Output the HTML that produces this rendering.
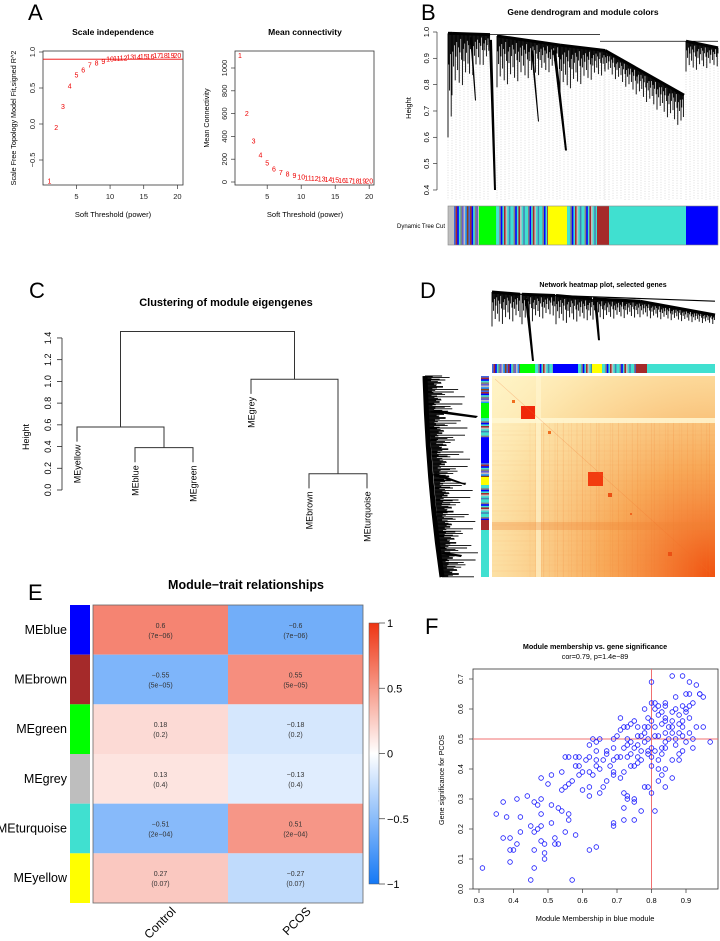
<!DOCTYPE html>
<html><head><meta charset="utf-8"><style>
html,body{margin:0;padding:0;background:#fff;}
svg{display:block;font-family:"Liberation Sans",Arial,sans-serif;}
</style></head><body>
<svg id="fig" width="720" height="941" viewBox="0 0 720 941">
<defs>
<linearGradient id="cbar" x1="0" y1="0" x2="0" y2="1">
<stop offset="0" stop-color="rgb(238,52,18)"/><stop offset="0.5" stop-color="#fff"/><stop offset="1" stop-color="rgb(20,120,245)"/>
</linearGradient>
<radialGradient id="heatR" cx="715" cy="577" r="320" gradientUnits="userSpaceOnUse">
<stop offset="0" stop-color="rgb(240,80,15)" stop-opacity="1"/>
<stop offset="0.35" stop-color="rgb(246,150,60)" stop-opacity="0.8"/>
<stop offset="0.7" stop-color="rgb(250,205,130)" stop-opacity="0.5"/>
<stop offset="1" stop-color="rgb(255,240,190)" stop-opacity="0"/>
</radialGradient>
</defs>
<g id="panels"></g>
</svg>
<script>
// ---------- DATA ----------
const powers=[1,2,3,4,5,6,7,8,9,10,11,12,13,14,15,16,17,18,19,20];
const scaleFitR2=[-0.79,-0.05,0.24,0.53,0.68,0.75,0.82,0.85,0.87,0.9,0.91,0.92,0.93,0.93,0.94,0.94,0.95,0.95,0.95,0.95];
const meanConn=[1110,600,360,235,165,115,85,70,55,45,35,30,25,20,17,15,12,10,8,7];
const meNames=["MEyellow","MEblue","MEgreen","MEgrey","MEbrown","MEturquoise"];
const meMergeBG=0.39, meMergeYBG=0.58, meMergeBT=0.15, meMergeGBT=1.02, meMergeTop=1.46;
const traitRows=["MEblue","MEbrown","MEgreen","MEgrey","MEturquoise","MEyellow"];
const rowColors=["#0000FF","#A52A2A","#00FF00","#BEBEBE","#40E0D0","#FFFF00"];
const traitCols=["Control","PCOS"];
const corControl=[0.6,-0.55,0.18,0.13,-0.51,0.27];
const corPCOS=[-0.6,0.55,-0.18,-0.13,0.51,-0.27];
const pvals=["(7e-06)","(5e-05)","(0.2)","(0.4)","(2e-04)","(0.07)"];
const mmX=[0.86,0.89,0.91,0.93,0.80,0.90,0.94,0.95,0.84,0.81,0.80,0.78,0.71,0.75,0.73,0.78,0.65,0.63,0.69,0.97,0.92,0.92,0.62,0.64,0.55,0.58,0.59,0.61,0.59,0.54,0.51,0.48,0.57,0.59,0.50,0.55,0.54,0.44,0.48,0.41,0.37,0.46,0.47,0.51,0.53,0.48,0.54,0.56,0.35,0.38,0.42,0.51,0.48,0.45,0.56,0.46,0.47,0.42,0.55,0.58,0.52,0.48,0.37,0.39,0.41,0.53,0.49,0.52,0.40,0.39,0.46,0.49,0.62,0.64,0.49,0.39,0.46,0.31,0.45,0.57,
0.62,0.64,0.66,0.69,0.70,0.71,0.73,0.74,0.76,0.77,0.79,0.80,0.82,0.83,0.84,0.86,0.88,0.72,0.73,0.75,0.76,0.78,0.79,0.81,0.82,0.84,0.85,0.86,0.88,0.89,0.91,0.73,0.74,0.76,0.70,0.71,0.72,0.74,0.76,0.79,0.80,0.82,0.83,0.84,0.86,0.87,0.88,0.90,0.91,0.81,0.82,0.84,0.87,0.89,0.92,0.93,0.91,0.89,0.87,0.85,0.84,0.83,0.81,0.89,0.87,0.90,0.68,0.69,0.71,0.72,0.74,0.75,0.76,0.65,0.63,0.67,0.66,0.69,0.65,0.62,0.62,0.60,0.72,0.73,0.75,0.75,0.73,0.77,0.72,0.69,0.69,0.72,0.75,0.81,0.80,0.78,0.79,0.82,0.83,0.82,0.80,0.84,0.86,0.84,0.88,0.58,0.56,0.62,0.60,0.64,0.56,0.64,0.67,0.69,0.67,0.86,0.84,0.83,0.81,0.79,0.78,0.77,0.80,0.79,0.77,0.88,0.86,0.89,0.91,0.94,0.95,0.90];
const gsY=[0.71,0.71,0.69,0.68,0.69,0.65,0.65,0.64,0.62,0.62,0.62,0.60,0.57,0.56,0.54,0.54,0.50,0.50,0.50,0.49,0.50,0.47,0.48,0.46,0.44,0.44,0.44,0.43,0.41,0.39,0.38,0.37,0.36,0.38,0.35,0.34,0.33,0.31,0.30,0.30,0.29,0.29,0.28,0.28,0.27,0.25,0.26,0.25,0.25,0.24,0.24,0.22,0.21,0.21,0.23,0.19,0.20,0.19,0.19,0.18,0.17,0.16,0.17,0.17,0.15,0.15,0.15,0.15,0.13,0.13,0.13,0.12,0.13,0.14,0.10,0.09,0.07,0.07,0.03,0.03,
0.44,0.43,0.43,0.43,0.44,0.44,0.44,0.45,0.44,0.43,0.45,0.44,0.43,0.45,0.47,0.43,0.43,0.47,0.48,0.47,0.48,0.49,0.50,0.51,0.51,0.52,0.54,0.54,0.55,0.56,0.57,0.50,0.49,0.51,0.51,0.53,0.54,0.55,0.54,0.57,0.56,0.58,0.59,0.57,0.59,0.60,0.58,0.59,0.61,0.60,0.61,0.61,0.64,0.61,0.62,0.54,0.52,0.51,0.50,0.50,0.49,0.47,0.46,0.46,0.48,0.49,0.41,0.39,0.37,0.39,0.41,0.41,0.42,0.40,0.38,0.36,0.34,0.38,0.32,0.31,0.34,0.33,0.32,0.31,0.30,0.29,0.30,0.26,0.27,0.22,0.21,0.23,0.23,0.26,0.32,0.34,0.34,0.36,0.38,0.40,0.41,0.40,0.37,0.34,0.45,0.41,0.35,0.39,0.39,0.41,0.44,0.49,0.45,0.47,0.46,0.56,0.56,0.55,0.54,0.54,0.52,0.51,0.47,0.46,0.46,0.52,0.52,0.54,0.65,0.65,0.54,0.60];
const barB=[[448,454,"#BEBEBE"],[454,479,"mix"],[479,496,"#00FF00"],[496,548,"mixT"],[548,567,"#FFFF00"],[567,597,"mixT"],[597,609,"#A52A2A"],[609,686,"#40E0D0"],[686,718,"#0000FF"]];
const barDtop=[[492,520,"mix"],[520,535,"#00FF00"],[535,553,"mixT"],[553,578,"#0000FF"],[578,592,"mixT"],[592,602,"#FFFF00"],[602,636,"mixT"],[636,647,"#A52A2A"],[647,715,"#40E0D0"]];
const barDleft=[[376,403,"mix"],[403,418,"#00FF00"],[418,438,"mixT"],[438,463,"#0000FF"],[463,477,"mix"],[477,485,"#FFFF00"],[485,520,"mixT"],[520,530,"#A52A2A"],[530,577,"#40E0D0"]];

// ---------- HELPERS ----------
const NS="http://www.w3.org/2000/svg";
const root=document.getElementById('panels');
function mk(tag,attrs,parent){const e=document.createElementNS(NS,tag);for(const k in attrs)e.setAttribute(k,attrs[k]);(parent||root).appendChild(e);return e;}
function txt(s,attrs,parent){const e=mk('text',attrs,parent);e.textContent=s;return e;}
function grp(name){const g=mk('g',{});

return g;}
function label(s,x,y,size,name,extra){const t=txt(s,Object.assign({x:x,y:y,'font-size':size},extra||{}));

return t;}
const mixCols=["#4169E1","#A52A2A","#0000FF","#40E0D0","#808080","#6A5ACD","#BEBEBE","#1E90FF","#8B4513"];
const mixTCols=["#40E0D0","#40E0D0","#808080","#0000FF","#40E0D0","#A52A2A","#BEBEBE","#40E0D0","#4682B4"];
function colorBar(g,segs,horizontal,a0,a1){
  segs.forEach(s=>{
    if(s[2]==="mix"||s[2]==="mixT"){const cols=s[2]==="mix"?mixCols:mixTCols;let k=0;
      for(let p=s[0];p<s[1];p+=1.6){const w=Math.min(1.6,s[1]-p);const c=cols[k%cols.length];k++;
        const r=horizontal?mk('rect',{x:p,y:a0,width:w+0.2,height:a1-a0,fill:c},g):mk('rect',{x:a0,y:p,width:a1-a0,height:w+0.2,fill:c},g);
        
        }
    } else {
      const r=horizontal?mk('rect',{x:s[0],y:a0,width:s[1]-s[0],height:a1-a0,fill:s[2]},g):mk('rect',{x:a0,y:s[0],width:a1-a0,height:s[1]-s[0],fill:s[2]},g);
      
      
    }
  });
}
const pat=[1,0.3,0.55,0.2,0.8,0.4,0.15,0.65,0.25,0.9,0.35,0.1,0.5];

// ---------- PANEL LETTERS ----------
[["A",28,20],["B",421,20],["C",29,298],["D",420,298],["E",28,600],["F",425,634]].forEach(l=>{
  label(l[0],l[1],l[2],22,'panel-letter-'+l[0].toLowerCase());
});

// ---------- PANEL A ----------
(function(){
  const g=grp('panel-a-scale-independence');
  const xs=v=>49.5+(v-1)*6.73, ys=v=>124-v*72;
  const f=mk('rect',{x:43,y:51,width:140,height:134,fill:'none',stroke:'#333','stroke-width':0.8},g);
  
  
  [5,10,15,20].forEach(v=>{mk('line',{x1:xs(v),x2:xs(v),y1:185,y2:189,stroke:'#333','stroke-width':0.7},g);label(v,xs(v),199,7.5,'x-tick-label',{'text-anchor':'middle',fill:'#222'});});
  [-0.5,0,0.5,1].forEach(v=>{mk('line',{x1:39,x2:43,y1:ys(v),y2:ys(v),stroke:'#333','stroke-width':0.7},g);const s=v===0?"0.0":v===1?"1.0":String(v).replace('-','−');label(s,35,ys(v),7.5,'y-tick-label',{'text-anchor':'middle',transform:`rotate(-90 35 ${ys(v)})`,fill:'#222'});});
  const rl=mk('line',{x1:43,x2:183,y1:ys(0.9),y2:ys(0.9),stroke:'#e00','stroke-width':0.8},g);
  
  
  powers.forEach((p,i)=>{label(p,xs(p),ys(scaleFitR2[i])+2.5,7,'power-point',{'text-anchor':'middle',fill:'#e00'});});
  label('Scale independence',113,35,8.5,'chart-title',{'text-anchor':'middle','font-weight':'bold'});
  label('Soft Threshold (power)',113,217,7.5,'x-axis-title',{'text-anchor':'middle'});
  label('Scale Free Topology Model Fit,signed R^2',16,118,7.2,'y-axis-title',{'text-anchor':'middle',transform:'rotate(-90 16 118)'});

  const g2=grp('panel-a-mean-connectivity');
  const xs2=v=>240+(v-1)*6.8, ys2=v=>182-v*0.114;
  const f2=mk('rect',{x:235,y:51,width:139,height:134,fill:'none',stroke:'#333','stroke-width':0.8},g2);
  
  
  [5,10,15,20].forEach(v=>{mk('line',{x1:xs2(v),x2:xs2(v),y1:185,y2:189,stroke:'#333','stroke-width':0.7},g2);label(v,xs2(v),199,7.5,'x-tick-label',{'text-anchor':'middle',fill:'#222'});});
  [0,200,400,600,800,1000].forEach(v=>{mk('line',{x1:231,x2:235,y1:ys2(v),y2:ys2(v),stroke:'#333','stroke-width':0.7},g2);label(v,227,ys2(v),7.5,'y-tick-label',{'text-anchor':'middle',transform:`rotate(-90 227 ${ys2(v)})`,fill:'#222'});});
  powers.forEach((p,i)=>{label(p,xs2(p),ys2(meanConn[i])+2.5,7,'connectivity-point',{'text-anchor':'middle',fill:'#e00'});});
  label('Mean connectivity',305,35,8.5,'chart-title',{'text-anchor':'middle','font-weight':'bold'});
  label('Soft Threshold (power)',305,217,7.5,'x-axis-title',{'text-anchor':'middle'});
  label('Mean Connectivity',209,118,7.2,'y-axis-title',{'text-anchor':'middle',transform:'rotate(-90 209 118)'});
})();

// ---------- DENDROGRAM DRAWER ----------
function dendro(g,clusters,ymap,dotted){
  clusters.forEach(c=>{
    const [x0,x1,t0,t1,b0,b1]=c;let i=0;
    for(let x=x0;x<=x1;x+=0.8){const f=(x-x0)/Math.max(1,(x1-x0));const top=t0+(t1-t0)*f;const bot=b0+(b1-b0)*f;
      const len=(top-bot)*pat[i%pat.length];
      if(dotted && i%5===0) mk('line',{x1:x,x2:x,y1:ymap(top-len),y2:dotted,stroke:'#aaa','stroke-width':0.4,'stroke-dasharray':'1,1.5'},g);
      i++;
      mk('line',{x1:x,x2:x,y1:ymap(top),y2:ymap(top-len),stroke:'#000','stroke-width':0.9},g);}
    mk('line',{x1:x0,x2:x1,y1:ymap(t0),y2:ymap(t1),stroke:'#000','stroke-width':3},g);
  });
}

// ---------- PANEL B ----------
(function(){
  const g=grp('panel-b-gene-dendrogram');
  const yB=h=>32+(1-h)*263.3;
  mk('line',{x1:437,x2:437,y1:yB(1),y2:yB(0.4),stroke:'#333','stroke-width':0.7},g);
  [0.4,0.5,0.6,0.7,0.8,0.9,1.0].forEach(v=>{mk('line',{x1:433,x2:437,y1:yB(v),y2:yB(v),stroke:'#333','stroke-width':0.7},g);label(v.toFixed(1),429,yB(v),7.5,'y-tick-label',{'text-anchor':'middle',transform:`rotate(-90 429 ${yB(v)})`});});
  label('Height',411,108,7.5,'y-axis-title',{'text-anchor':'middle',transform:'rotate(-90 411 108)'});
  label('Gene dendrogram and module colors',583,15,8.5,'chart-title',{'text-anchor':'middle','font-weight':'bold'});
  const dg=grp('gene-dendrogram');
  dendro(dg,[[448,452,0.995,0.995,0.6,0.6],[452,490,0.995,0.99,0.76,0.9],[497,560,0.985,0.95,0.79,0.86],[560,605,0.95,0.93,0.77,0.84],[605,684,0.93,0.76,0.85,0.63],[686,718,0.965,0.94,0.85,0.87]],yB,200);
  mk('line',{x1:450,x2:600,y1:yB(0.99),y2:yB(0.99),stroke:'#000','stroke-width':0.8},dg);
  mk('line',{x1:600,x2:718,y1:yB(0.965),y2:yB(0.965),stroke:'#000','stroke-width':0.8},dg);
  mk('polygon',{points:`489,${yB(0.97)} 492,${yB(0.97)} 496,${yB(0.4)} 494,${yB(0.4)}`,fill:'#000'},dg);
  mk('polygon',{points:`553,${yB(0.93)} 556,${yB(0.93)} 567,${yB(0.55)} 565,${yB(0.55)}`,fill:'#000'},dg);
  mk('polygon',{points:`531,${yB(0.93)} 533,${yB(0.93)} 539,${yB(0.66)} 538,${yB(0.66)}`,fill:'#000'},dg);
  mk('polygon',{points:`470,${yB(0.98)} 472,${yB(0.98)} 476,${yB(0.74)} 475,${yB(0.74)}`,fill:'#000'},dg);
  const cb=grp('dynamic-tree-cut-colors');
  colorBar(cb,barB,true,206,245);
  mk('rect',{x:448,y:206,width:270,height:39,fill:'none',stroke:'#888','stroke-width':0.6},cb);
  label('Dynamic Tree Cut',445,228,6,'color-bar-label',{'text-anchor':'end'});
})();

// ---------- PANEL C ----------
(function(){
  const g=grp('panel-c-eigengene-clustering');
  const yC=h=>490-h*108.6;
  const lx=i=>77+i*58;
  mk('line',{x1:62,x2:62,y1:yC(0),y2:yC(1.4),stroke:'#222','stroke-width':0.8},g);
  [0,0.2,0.4,0.6,0.8,1.0,1.2,1.4].forEach(v=>{mk('line',{x1:57,x2:62,y1:yC(v),y2:yC(v),stroke:'#222','stroke-width':0.8},g);label(v.toFixed(1),51,yC(v),9,'y-tick-label',{'text-anchor':'middle',transform:`rotate(-90 51 ${yC(v)})`});});
  label('Height',29,437,9,'y-axis-title',{'text-anchor':'middle',transform:'rotate(-90 29 437)'});
  label('Clustering of module eigengenes',226,306,11,'chart-title',{'text-anchor':'middle','font-weight':'bold'});
  const hang=0.135, s={stroke:'#333','stroke-width':1,fill:'none'};
  function U(xa,ha,xb,hb,h){const p=mk('path',Object.assign({d:`M${xa},${yC(ha)} V${yC(h)} H${xb} V${yC(hb)}`},s),g);
}
  const nBG=(lx(1)+lx(2))/2, nYBG=(lx(0)+nBG)/2, nBT=(lx(4)+lx(5))/2, nGBT=(lx(3)+nBT)/2;
  U(lx(1),meMergeBG-hang,lx(2),meMergeBG-hang,meMergeBG);
  U(lx(0),meMergeYBG-hang,nBG,meMergeBG,meMergeYBG);
  U(lx(4),meMergeBT-hang,lx(5),meMergeBT-hang,meMergeBT);
  U(lx(3),meMergeGBT-hang,nBT,meMergeBT,meMergeGBT);
  U(nYBG,meMergeYBG,nGBT,meMergeGBT,meMergeTop);
  const tips=[meMergeYBG,meMergeBG,meMergeBG,meMergeGBT,meMergeBT,meMergeBT];
  meNames.forEach((n,i)=>{const y=yC(tips[i]-hang)+3;label(n,lx(i)+3.5,y,9,'leaf-label',{'text-anchor':'end',transform:`rotate(-90 ${lx(i)+3.5} ${y})`});});
})();

// ---------- PANEL D ----------
(function(){
  const g=grp('panel-d-network-heatmap');
  label('Network heatmap plot, selected genes',603,287,7,'chart-title',{'text-anchor':'middle','font-weight':'bold'});
  const td=grp('top-dendrogram');
  const yT=h=>292+(1-h)*230;
  dendro(td,[[492,520,1.0,0.99,0.85,0.88],[522,555,0.99,0.985,0.86,0.9],[556,592,0.985,0.97,0.86,0.88],[593,640,0.97,0.96,0.88,0.89],[640,715,0.96,0.9,0.89,0.86]],yT,null);
  mk('line',{x1:492,x2:715,y1:yT(0.995),y2:yT(0.96),stroke:'#000','stroke-width':1.2},td);
  mk('polygon',{points:`525,${yT(0.97)} 528,${yT(0.97)} 534,${yT(0.7)} 532,${yT(0.7)}`,fill:'#000'},td);
  mk('polygon',{points:`594,${yT(0.96)} 597,${yT(0.96)} 600,${yT(0.79)} 598,${yT(0.79)}`,fill:'#000'},td);
  const cbt=grp('top-module-colors');colorBar(cbt,barDtop,true,364,373);
  const cbl=grp('left-module-colors');colorBar(cbl,barDleft,false,481,489);
  const ld=grp('left-dendrogram');
  let i=0;
  for(let y=376;y<=577;y+=0.8){const rx=425+(y-376)/201*17;const len=(8+30*pat[i%pat.length]);i++;
    mk('line',{x1:rx,x2:rx+len*(i%3===0?1:0.45),y1:y,y2:y,stroke:'#000','stroke-width':0.9},ld);}
  mk('path',{d:'M425,376 Q428,480 442,577',stroke:'#000','stroke-width':5,fill:'none'},ld);
  mk('polygon',{points:'430,412 436,410 478,416 476,418',fill:'#000'},ld);
  mk('polygon',{points:'432,475 436,473 466,484 465,485',fill:'#000'},ld);
  mk('polygon',{points:'440,554 444,552 462,555 461,557',fill:'#000'},ld);
  const hm=grp('tom-heatmap');
  const base=mk('rect',{x:492,y:376,width:223,height:201,fill:'rgb(255,245,200)'},hm);
  
  
  mk('rect',{x:492,y:376,width:223,height:201,fill:'url(#heatR)'},hm);
  for(let k=0;k<40;k++){const x=530+k*4.6+(k%3);mk('line',{x1:x,x2:x,y1:420,y2:577,stroke:'rgb(240,120,40)','stroke-width':0.6,opacity:0.1+0.06*(k%4)},hm);}
  for(let k=0;k<30;k++){const y=425+k*5+(k%2);mk('line',{x1:492,x2:715,y1:y,y2:y,stroke:'rgb(240,120,40)','stroke-width':0.6,opacity:0.06+0.05*(k%3)},hm);}
  mk('rect',{x:492,y:418,width:223,height:5,fill:'rgb(255,247,210)',opacity:0.85},hm);
  mk('rect',{x:536,y:376,width:5,height:201,fill:'rgb(255,247,210)',opacity:0.6},hm);
  mk('rect',{x:492,y:522,width:223,height:8,fill:'rgb(240,130,50)',opacity:0.3},hm);
  [[521,406,14,13,'rgb(240,40,10)'],[588,472,15,14,'rgb(242,60,15)'],[608,493,4,4,'rgb(235,80,20)'],[668,552,4,4,'rgb(235,80,20)'],[512,400,3,3,'rgb(240,110,30)'],[548,431,3,3,'rgb(240,110,30)'],[630,513,2,2,'rgb(240,100,30)']].forEach(b=>{
    const r=mk('rect',{x:b[0],y:b[1],width:b[2],height:b[3],fill:b[4]},hm);
    
    });
  mk('line',{x1:495,y1:379,x2:715,y2:577,stroke:'rgb(240,110,40)','stroke-width':0.6,opacity:0.3},hm);
})();

// ---------- PANEL E ----------
(function(){
  const g=grp('panel-e-module-trait');
  label('Module−trait relationships',246,589,12.5,'chart-title',{'text-anchor':'middle','font-weight':'bold'});
  const top=605,rh=(903-605)/traitRows.length,cx0=93,cw=135;
  function col(v){const a=Math.abs(v);return v>=0?`rgb(${Math.round(255-a*17)},${Math.round(255-a*205)},${Math.round(255-a*235)})`:`rgb(${Math.round(255-a*235)},${Math.round(255-a*135)},${Math.round(255-a*10)})`;}
  traitRows.forEach((n,i)=>{
    const y=top+i*rh;
    const s=mk('rect',{x:70,y:y,width:20,height:rh,fill:rowColors[i]},g);
    
    
    label(n,67,y+rh/2+4,12.5,'row-label',{'text-anchor':'end'});
    [corControl,corPCOS].forEach((arr,j)=>{
      const c=mk('rect',{x:cx0+j*cw,y:y,width:cw,height:rh,fill:col(arr[i])},g);
      
      
      const cx=cx0+j*cw+cw/2;
      label(String(arr[i]).replace('-','−'),cx,y+rh/2-2,7,'cell-correlation',{'text-anchor':'middle',fill:'#333'});
      label(pvals[i].replace(/-/g,'−'),cx,y+rh/2+8,7,'cell-pvalue',{'text-anchor':'middle',fill:'#333'});
    });
  });
  mk('rect',{x:cx0,y:top,width:2*cw,height:903-605,fill:'none',stroke:'#666','stroke-width':0.8},g);
  traitCols.forEach((c,j)=>{const x=cx0+j*cw+cw/2+16,y=912;label(c,x,y,12,'column-label',{'text-anchor':'end',transform:`rotate(-45 ${x} ${y})`});});
  const cb=mk('rect',{x:369,y:623,width:10,height:261,fill:'url(#cbar)',stroke:'#555','stroke-width':0.5},g);
  
  
  [[1,"1"],[0.5,"0.5"],[0,"0"],[-0.5,"−0.5"],[-1,"−1"]].forEach(t=>{const y=753.5-t[0]*130.5;mk('line',{x1:379,x2:385,y1:y,y2:y,stroke:'#333','stroke-width':0.7},g);label(t[1],387,y+4,11,'legend-tick-label');});
})();

// ---------- PANEL F ----------
(function(){
  const g=grp('panel-f-mm-vs-gs');
  const xF=v=>479+(v-0.3)*345, yF=v=>889-v*300;
  label('Module membership vs. gene significance',595,649,7.2,'chart-title',{'text-anchor':'middle','font-weight':'bold'});
  label('cor=0.79, p=1.4e−89',595,659,7.2,'chart-subtitle',{'text-anchor':'middle'});
  const f=mk('rect',{x:473,y:669,width:245,height:220,fill:'none',stroke:'#333','stroke-width':0.8},g);
  
  
  [0.3,0.4,0.5,0.6,0.7,0.8,0.9].forEach(v=>{mk('line',{x1:xF(v),x2:xF(v),y1:889,y2:893,stroke:'#333','stroke-width':0.7},g);label(v.toFixed(1),xF(v),903,7.5,'x-tick-label',{'text-anchor':'middle'});});
  [0,0.1,0.2,0.3,0.4,0.5,0.6,0.7].forEach(v=>{mk('line',{x1:469,x2:473,y1:yF(v),y2:yF(v),stroke:'#333','stroke-width':0.7},g);label(v.toFixed(1),463,yF(v),7,'y-tick-label',{'text-anchor':'middle',transform:`rotate(-90 463 ${yF(v)})`});});
  label('Module Membership in blue module',595,921,7.5,'x-axis-title',{'text-anchor':'middle'});
  label('Gene significance for  PCOS',444,780,7.2,'y-axis-title',{'text-anchor':'middle',transform:'rotate(-90 444 780)'});
  const pts=grp('scatter-points');
  mmX.forEach((v,i)=>{const c=mk('circle',{cx:xF(v),cy:yF(gsY[i]),r:2.3,fill:'none',stroke:'#1a1aff','stroke-width':0.8},pts);
    
    });
  const v=mk('line',{x1:xF(0.8),x2:xF(0.8),y1:669,y2:889,stroke:'#f07070','stroke-width':1},g);
  
  
  const h=mk('line',{x1:473,x2:718,y1:yF(0.5),y2:yF(0.5),stroke:'#f07070','stroke-width':1},g);
  
  
})();
</script>
</body></html>
